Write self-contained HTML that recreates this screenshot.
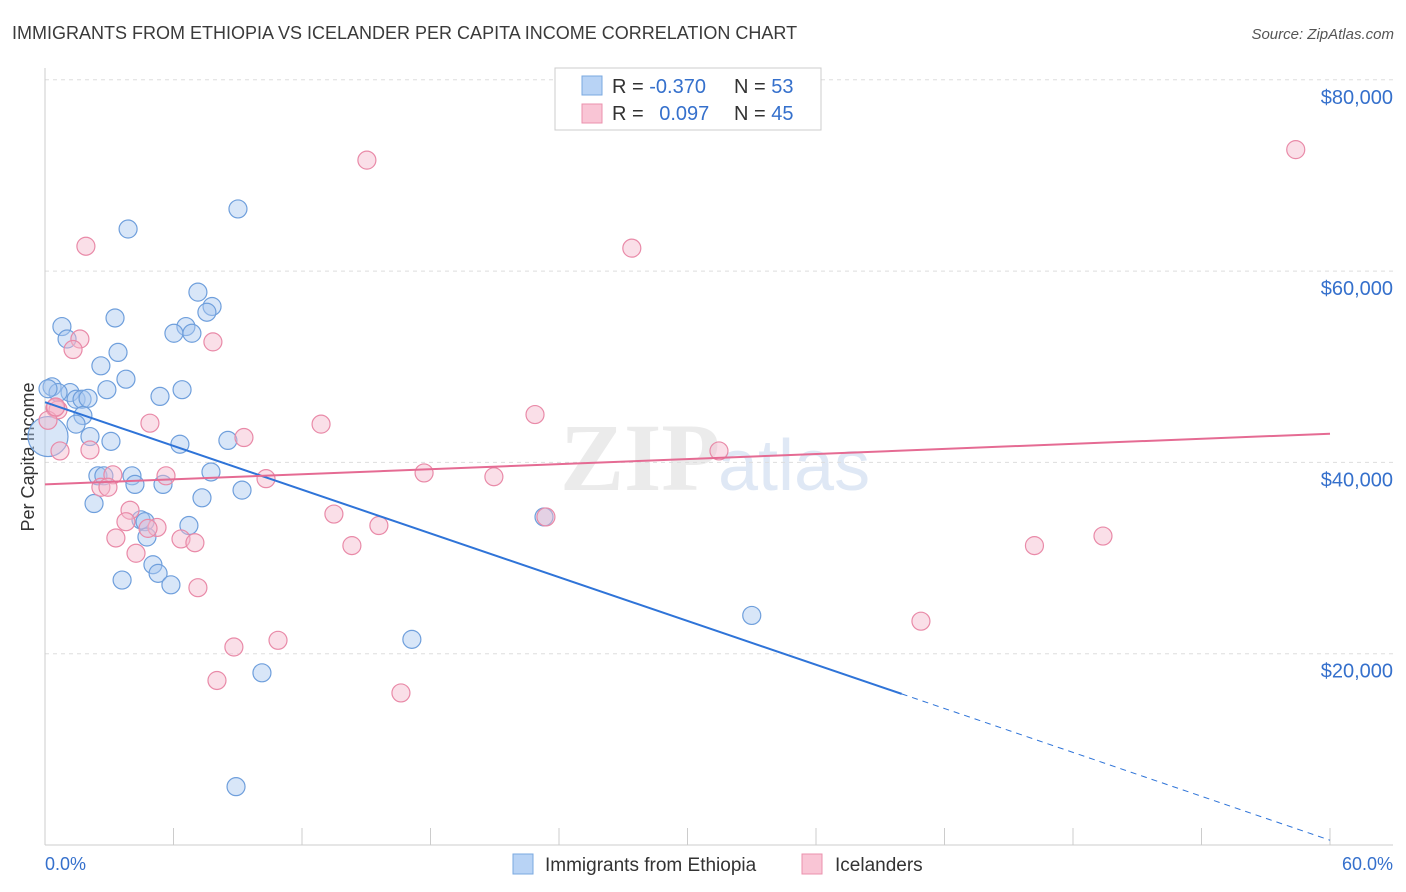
<!DOCTYPE html>
<html><head><meta charset="utf-8">
<style>
body{margin:0;background:#fff;font-family:"Liberation Sans",sans-serif;}
svg{display:block}
</style></head>
<body>
<svg id="chart" width="1406" height="892" xmlns="http://www.w3.org/2000/svg">
<text x="12" y="39" font-size="18" fill="#3a3a3a">IMMIGRANTS FROM ETHIOPIA VS ICELANDER PER CAPITA INCOME CORRELATION CHART</text>
<text x="1394" y="39" font-size="15" fill="#555" font-style="italic" text-anchor="end">Source: ZipAtlas.com</text>
<text x="720" y="490" font-size="96" fill="#ebebeb" font-weight="bold" text-anchor="end" font-family="Liberation Serif,serif">ZIP</text>
<text x="718" y="490" font-size="72" fill="#dfe8f5">atlas</text>
<text transform="translate(34,457) rotate(-90)" font-size="18" fill="#333" text-anchor="middle">Per Capita Income</text>
<g id="grid"></g>
<g id="axes"></g>
<g id="points"></g>
<g id="lines"></g>
<g>
<rect x="555" y="68" width="266" height="62" fill="#fff" stroke="#ccc"/>
<rect x="582" y="76" width="20" height="19" fill="#b8d3f5" stroke="#7aa8e0"/>
<rect x="582" y="104" width="20" height="19" fill="#f9c5d5" stroke="#eb91ad"/>
<text x="612" y="93" font-size="20" fill="#333">R = <tspan fill="#3570cc">-0.370</tspan></text>
<text x="734" y="93" font-size="20" fill="#333">N = <tspan fill="#3570cc">53</tspan></text>
<text x="612" y="120" font-size="20" fill="#333">R = <tspan fill="#3570cc" dx="10">0.097</tspan></text>
<text x="734" y="120" font-size="20" fill="#333">N = <tspan fill="#3570cc">45</tspan></text>
</g>
<g>
<rect x="513" y="854" width="20" height="20" fill="#b8d3f5" stroke="#7aa8e0"/>
<text x="545" y="871" font-size="19" fill="#333">Immigrants from Ethiopia</text>
<rect x="802" y="854" width="20" height="20" fill="#f9c5d5" stroke="#eb91ad"/>
<text x="835" y="871" font-size="19" fill="#333">Icelanders</text>
</g>
<text x="45" y="870" font-size="18" fill="#3570cc">0.0%</text>
<text x="1393" y="870" font-size="18" fill="#3570cc" text-anchor="end">60.0%</text>
</svg>
<script>
const yTicks=[20000,40000,60000,80000];
const yTickLabels=["$20,000","$40,000","$60,000","$80,000"];
const blueX=[9.01,3.88,7.14,7.80,7.56,3.27,0.79,6.58,6.02,6.86,1.03,3.41,2.61,3.78,0.33,2.89,5.37,6.40,1.17,0.61,1.45,1.73,2.01,1.77,1.45,2.10,3.08,8.54,6.30,7.75,2.47,2.75,4.06,4.20,5.51,9.20,7.33,2.29,6.72,4.48,4.67,4.76,23.30,5.04,5.28,3.60,5.88,33.0,17.13,10.13,8.92,0.14,0.14];
const blueY=[66.5,64.4,57.8,56.3,55.7,55.1,54.2,54.2,53.5,53.5,52.9,51.5,50.1,48.7,47.9,47.6,46.9,47.6,47.3,47.3,46.6,46.6,46.7,44.9,44.0,42.7,42.2,42.3,41.9,39.0,38.6,38.6,38.6,37.7,37.7,37.1,36.3,35.7,33.4,34.0,33.8,32.2,34.3,29.3,28.4,27.7,27.2,24.0,21.5,18.0,6.1,42.7,47.7];
const pinkX=[15.03,58.4,1.91,27.4,1.63,1.31,7.84,0.47,0.61,4.90,12.89,22.88,9.29,2.10,0.70,31.47,17.70,20.96,10.32,3.17,5.65,2.61,2.94,3.97,13.49,3.78,23.39,15.59,5.23,4.81,3.31,6.35,7.00,14.33,4.25,46.2,49.4,7.14,40.9,8.82,10.88,8.03,16.62,0.14,0.5];
const pinkY=[71.6,72.7,62.6,62.4,52.9,51.8,52.6,45.7,45.5,44.1,44.0,45.0,42.6,41.3,41.2,41.2,38.9,38.5,38.3,38.7,38.6,37.4,37.4,35.0,34.6,33.8,34.3,33.4,33.2,33.1,32.1,32.0,31.6,31.3,30.5,31.3,32.3,26.9,23.4,20.7,21.4,17.2,15.9,44.4,45.8];
const blueLine=[46.3,15.8,0.5]; // at x=0, 40, 60
const pinkLine=[37.7,43.0]; // at x=0, 60
const NS="http://www.w3.org/2000/svg";
const sx=v=>45+v/60*1285;
const sy=v=>845-v/20000*191.3;
const syk=v=>sy(v*1000);
function mk(t,a,p){const e=document.createElementNS(NS,t);for(const k in a)e.setAttribute(k,a[k]);p.appendChild(e);return e;}
const grid=document.getElementById('grid'),axes=document.getElementById('axes'),pts=document.getElementById('points'),lines=document.getElementById('lines');
yTicks.forEach((t,i)=>{
 const l=mk('line',{x1:45,x2:1393,y1:sy(t),y2:sy(t),stroke:'#ddd','stroke-dasharray':'4,4'},grid);
 
 
 const tx=mk('text',{x:1393,y:sy(t)+24,'font-size':20,fill:'#3570cc','text-anchor':'end'},grid);
 tx.textContent=yTickLabels[i];
 
 
});
mk('line',{x1:45,x2:45,y1:68,y2:845,stroke:'#ccc'},axes);
mk('line',{x1:45,x2:1393,y1:845,y2:845,stroke:'#ccc'},axes);
for(let i=0;i<=10;i++){const t=mk('line',{x1:sx(i*6),x2:sx(i*6),y1:828,y2:845,stroke:'#ccc'},axes);
 
 }
function dots(X,Y,fill,stroke,name){X.forEach((x,i)=>{
 const r=(name==='blue-point'&&i===X.length-2)?20:9;
 const c=mk('circle',{cx:sx(x),cy:syk(Y[i]),r:r,fill:fill,'fill-opacity':0.45,stroke:stroke,'stroke-width':1.2},pts);
 
 
});}
dots(blueX,blueY,'#a9c8f0','#6f9fdc','blue-point');
dots(pinkX,pinkY,'#f5b8cb','#e98aa8','pink-point');
const b1=mk('line',{x1:sx(0),y1:syk(blueLine[0]),x2:sx(40),y2:syk(blueLine[1]),stroke:'#2f74d8','stroke-width':2},lines);


const b2=mk('line',{x1:sx(40),y1:syk(blueLine[1]),x2:sx(60),y2:syk(blueLine[2]),stroke:'#2f74d8','stroke-width':1,'stroke-dasharray':'6,5'},lines);


const p1=mk('line',{x1:sx(0),y1:syk(pinkLine[0]),x2:sx(60),y2:syk(pinkLine[1]),stroke:'#e56b93','stroke-width':2},lines);


</script>
</body></html>
